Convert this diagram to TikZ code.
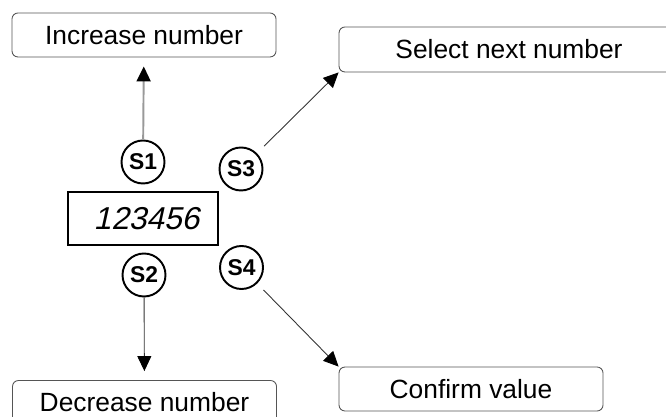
\documentclass[tikz,border=0pt]{standalone}
\usepackage{fontspec}
\setmainfont{Liberation Sans}
\newfontfamily\segfont[FakeSlant=0.22]{Liberation Sans}
\usepackage{tikz}
\usetikzlibrary{arrows.meta, positioning, calc}
\definecolor{frame}{HTML}{555555}
\definecolor{wire}{HTML}{333333}
\definecolor{lightwire}{HTML}{999999}

\begin{document}
\begin{tikzpicture}[
    >={Triangle[length=0.3cm, width=0.28cm, color=black]},
    action/.style={draw=frame, line width=0.5pt, rounded corners=0.12cm, minimum width=5.28cm, minimum height=0.88cm, inner sep=0pt, font=\fontsize{15}{18}\selectfont, #1},
    key/.style={draw, circle, line width=1.1pt, minimum size=0.86cm, inner sep=0pt, font=\bfseries\fontsize{13}{15}\selectfont},
    link/.style={->, wire, line width=0.5pt},
]
    \clip (0, 0) rectangle (13.32, 8.32);
    \useasboundingbox (0, 0) rectangle (13.32, 8.32);

    % display
    \node[draw, line width=0.8pt, minimum width=3cm, minimum height=1.06cm, inner sep=0pt] (disp) at (2.86, 3.95) {};
    \node[font=\segfont\fontsize{18}{20}\selectfont] (digits) at (2.93, 3.95) {123456};

    % keys
    \node[key] (s1) at (2.86, 5.08) {S1};
    \node[key] (s2) at (2.88, 2.82) {S2};
    \node[key] (s3) at (4.82, 4.94) {S3};
    \node[key] (s4) at (4.83, 2.97) {S4};

    % actions
    \node[action] (inc) at (2.88, 7.62) {Increase number};
    \node[action] (dec) at (2.89, 0.27) {Decrease number};
    \node[action={minimum width=6.8cm, minimum height=0.9cm}] (sel) at (10.18, 7.33) {Select next number};
    \node[action] (conf) at (9.42, 0.54) {Confirm value};

    % arrows
    \draw[link, lightwire, line width=1.1pt, shorten >=0.18cm] (s1) -- (inc);
    \draw[link, shorten >=0.18cm] (s2) -- (dec);
    \draw[link, shorten <=0.2cm] (s3) -- (sel.south west);
    \draw[link, shorten <=0.18cm] (s4) -- (conf.north west);
\end{tikzpicture}
\end{document}
